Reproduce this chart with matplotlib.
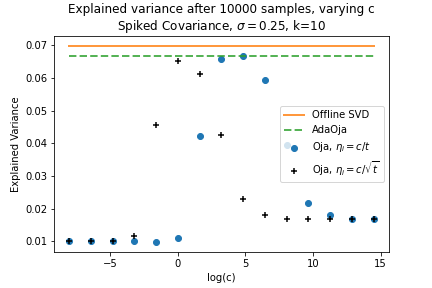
import numpy as np
import matplotlib.pyplot as plt

# log(c) grid, c = 5^k for k = -5..9
k_vals = np.arange(-5, 10)
log_c = k_vals * np.log(5)

# explained variance values
offline_svd = 0.0699
adaoja = 0.0667
oja_c_t = [0.0100, 0.0100, 0.0100, 0.0100, 0.0097, 0.0109, 0.0423, 0.0660,
           0.0668, 0.0595, 0.0395, 0.0217, 0.0180, 0.0168, 0.0168]
oja_c_sqrt_t = [0.0100, 0.0100, 0.0100, 0.0115, 0.0457, 0.0651, 0.0614, 0.0426,
                0.0229, 0.0180, 0.0168, 0.0168, 0.0168, 0.0168, 0.0168]

fig = plt.figure(figsize=(6, 4), dpi=72)
plt.plot([log_c[0], log_c[-1]], [offline_svd, offline_svd], color='C1', alpha=0.8,
         lw=2, label='Offline SVD')
plt.plot([log_c[0], log_c[-1]], [adaoja, adaoja], '--', color='C2', alpha=0.8,
         lw=2, label='AdaOja')
plt.scatter(log_c, oja_c_t, color='C0', label=r'Oja, $\eta_i = c/t$')
plt.scatter(log_c, oja_c_sqrt_t, marker='+', color='k', linewidths=1.5,
            label=r'Oja, $\eta_i = c/\sqrt{t}$')

plt.legend(loc='center right')
plt.xlabel('log(c)')
plt.ylabel('Explained Variance')
plt.title('Explained variance after 10000 samples, varying c\n'
          r'Spiked Covariance, $\sigma = 0.25$, k=10')
plt.subplots_adjust(bottom=0.125, top=0.875)
plt.savefig('out.png', dpi=72)
